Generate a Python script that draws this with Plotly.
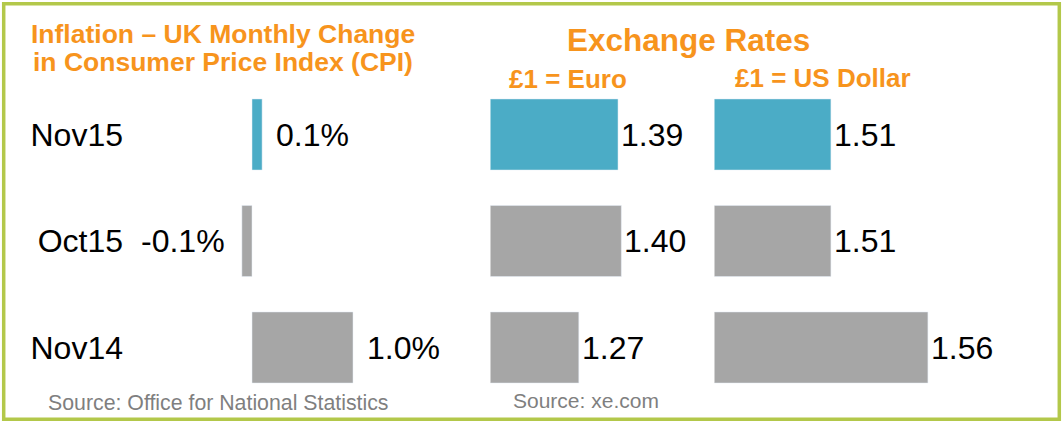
import plotly.graph_objects as go

W, H = 1064, 421

categories = ["Nov15", "Oct15", "Nov14"]
cpi_values = [0.1, -0.1, 1.0]
euro_values = [1.39, 1.40, 1.27]
usd_values = [1.51, 1.51, 1.56]
bar_colors = ["#4bacc6", "#a6a6a6", "#a6a6a6"]

title_cpi_1 = "Inflation – UK Monthly Change"
title_cpi_2 = "in Consumer Price Index (CPI)"
title_fx = "Exchange Rates"
title_euro = "£1 = Euro"
title_usd = "£1 = US Dollar"
source_cpi = "Source: Office for National Statistics"
source_fx = "Source: xe.com"

ORANGE = "#f7941d"
FONT = "Liberation Sans, Arial, sans-serif"


def px(x):
    return x / W


def py(y):
    return 1 - y / H


fig = go.Figure()
fig.add_trace(go.Bar(y=categories, x=cpi_values, orientation="h", marker_color=bar_colors,
                     width=0.667, xaxis="x", yaxis="y", hoverinfo="skip"))
fig.add_trace(go.Bar(y=categories, x=euro_values, orientation="h", marker_color=bar_colors,
                     width=0.667, xaxis="x2", yaxis="y", hoverinfo="skip"))
fig.add_trace(go.Bar(y=categories, x=usd_values, orientation="h", marker_color=bar_colors,
                     width=0.667, xaxis="x3", yaxis="y", hoverinfo="skip"))

# axis geometry (pixels)
cpi_zero, cpi_scale, cpi_l, cpi_r = 252, 101, 130, 480
eu_start, eu_scale, eu_l, eu_r = 1.0, 327, 490.5, 700
us_start, us_scale, us_l, us_r = 1.45, 1940, 714.5, 1040

annotations = []
for c, v in zip(categories, cpi_values):
    annotations.append(dict(x=v, y=c, xref="x", yref="y", text=f"{v:.1f}%", showarrow=False,
                            xanchor="left" if v >= 0 else "right", yanchor="middle",
                            xshift=12 if v >= 0 else -15,
                            font=dict(size=32, color="#000000", family=FONT)))
for c, v in zip(categories, euro_values):
    annotations.append(dict(x=v, y=c, xref="x2", yref="y", text=f"{v:.2f}", showarrow=False,
                            xanchor="left", yanchor="middle", xshift=1,
                            font=dict(size=32, color="#000000", family=FONT)))
for c, v in zip(categories, usd_values):
    annotations.append(dict(x=v, y=c, xref="x3", yref="y", text=f"{v:.2f}", showarrow=False,
                            xanchor="left", yanchor="middle", xshift=1,
                            font=dict(size=32, color="#000000", family=FONT)))

def txt(text, x, y, size, color, bold=False, xanchor="left"):
    return dict(x=px(x), y=py(y), xref="paper", yref="paper", text=f"<b>{text}</b>" if bold else text,
                showarrow=False, xanchor=xanchor, yanchor="middle",
                font=dict(size=size, color=color, family=FONT))

annotations += [
    txt(title_cpi_1, 223, 34.5, 26.5, ORANGE, True, "center"),
    txt(title_cpi_2, 223, 62, 26.5, ORANGE, True, "center"),
    txt(title_fx, 688.5, 40, 31.5, ORANGE, True, "center"),
    txt(title_euro, 506.5, 79.5, 26, ORANGE, True),
    txt(title_usd, 732.5, 78, 26, ORANGE, True),
    txt(source_cpi, 45.5, 403, 21.3, "#7f7f7f"),
    txt(source_fx, 511, 400.5, 21, "#7f7f7f"),
]

ydom = [py(400.75), py(81.25)]

fig.update_layout(
    width=W, height=H, margin=dict(l=0, r=0, t=0, b=0),
    paper_bgcolor="white", plot_bgcolor="rgba(0,0,0,0)",
    showlegend=False, barmode="overlay",
    font=dict(family=FONT),
    xaxis=dict(domain=[px(cpi_l), px(cpi_r)],
               range=[(cpi_l - cpi_zero) / cpi_scale, (cpi_r - cpi_zero) / cpi_scale],
               visible=False, fixedrange=True),
    xaxis2=dict(domain=[px(eu_l), px(eu_r)], anchor="y",
                range=[eu_start, eu_start + (eu_r - eu_l) / eu_scale],
                visible=False, fixedrange=True),
    xaxis3=dict(domain=[px(us_l), px(us_r)], anchor="y",
                range=[us_start, us_start + (us_r - us_l) / us_scale],
                visible=False, fixedrange=True),
    yaxis=dict(domain=ydom, type="category", categoryorder="array",
               categoryarray=categories[::-1], range=[-0.5, 2.5],
               showgrid=False, zeroline=False, showline=False, ticks="",
               tickfont=dict(size=32, color="#000000", family=FONT),
               ticklabelstandoff=6, fixedrange=True),
    annotations=annotations,
    shapes=[dict(type="rect", xref="paper", yref="paper",
                 x0=px(3.7), x1=px(1059.3), y0=py(419.3), y1=py(3.7),
                 line=dict(color="#b3c84a", width=3.5), fillcolor="rgba(0,0,0,0)", layer="above")],
)

fig.write_html("out.html", config={"displayModeBar": False},
               post_script="document.body.style.margin='0';document.body.style.overflow='hidden';")
